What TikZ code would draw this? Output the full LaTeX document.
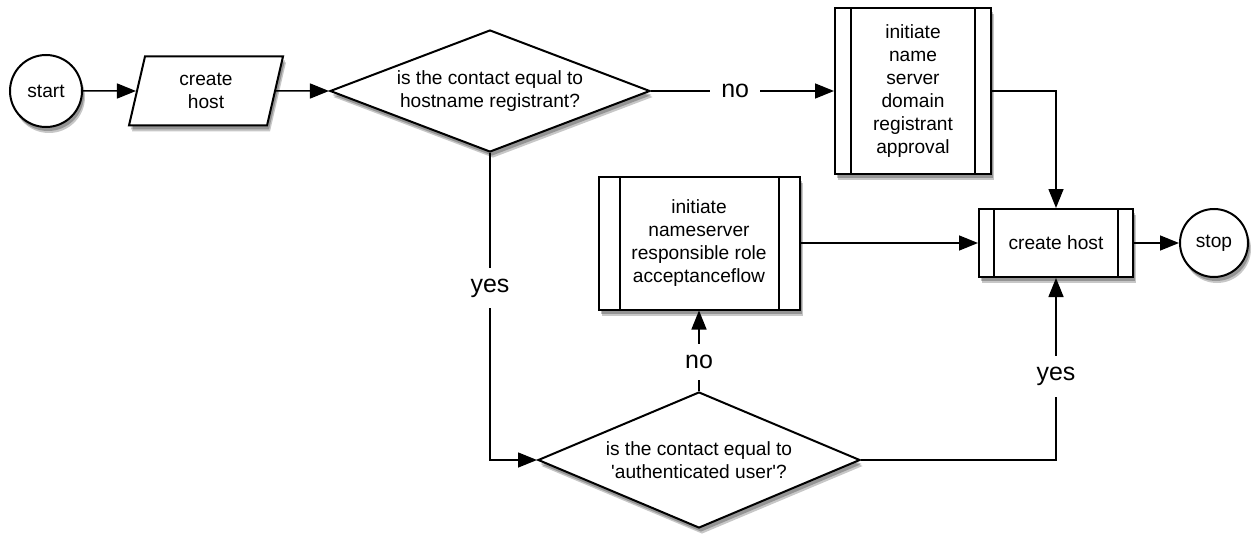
\documentclass[tikz,border=0pt]{standalone}
\usepackage{fontspec}
\setmainfont{Liberation Sans}
\usetikzlibrary{shapes.geometric,shadows,arrows.meta}
\tikzset{
  shade/.style={drop shadow={shadow xshift=0.06cm,shadow yshift=-0.12cm,opacity=0.22,fill=black},
    drop shadow={shadow xshift=0.04cm,shadow yshift=-0.08cm,opacity=0.25,fill=black}},
  terminal/.style={circle,draw,fill=white,line width=0.04cm,inner sep=0pt,shade},
  inout/.style={trapezium,trapezium left angle=65.8,trapezium right angle=114.2,trapezium stretches body,
    draw,fill=white,line width=0.04cm,inner sep=0pt,align=center,shade},
  decision/.style={diamond,draw,fill=white,line width=0.04cm,inner sep=0pt,align=center,shade},
  subproc/.style={rectangle,draw,fill=white,line width=0.04cm,inner sep=0pt,align=center,shade,
    path picture={
      \draw[line width=0.04cm] ([xshift=#1]path picture bounding box.north west) -- ([xshift=#1]path picture bounding box.south west);
      \draw[line width=0.04cm] ([xshift=-#1]path picture bounding box.north east) -- ([xshift=-#1]path picture bounding box.south east);
    }},
  flow/.style={line width=0.03cm,-{Triangle[length=0.38cm,width=0.30cm]}},
  branch/.style={fill=white,inner sep=0.22cm,font=\fontsize{14.2}{16}\selectfont}
}
\begin{document}
\begin{tikzpicture}
                \useasboundingbox (0,0) rectangle (25.080000,10.700000);
                {\fontsize{10.9}{13.1}\selectfont

                % Marking node start
                \node (start) [terminal,minimum size=1.440000cm] at (0.920000,8.880000) {start};%

                % Marking node create host (input)
                \node (hostin) [inout,minimum width=3.080000cm,minimum height=1.380000cm] at (4.120000,8.880000) {create\\host};%

                % Marking node contact = hostname registrant
                \node (askreg) [decision,minimum width=6.400000cm,minimum height=2.440000cm,aspect=2.6] at (9.800000,8.880000) {is the contact equal to\\hostname registrant?};%

                % Marking node registrant approval
                \node (regflow) [subproc=0.320000cm,minimum width=3.120000cm,minimum height=3.320000cm] at (18.260000,8.880000) {initiate\\name\\server\\domain\\registrant\\approval};%

                % Marking node responsible role acceptance
                \node (roleflow) [subproc=0.420000cm,minimum width=4.020000cm,minimum height=2.660000cm] at (13.980000,5.840000) {initiate\\nameserver\\responsible role\\acceptanceflow};%

                % Marking node create host
                \node (hostout) [subproc=0.300000cm,minimum width=3.080000cm,minimum height=1.360000cm] at (21.120000,5.840000) {create host};%

                % Marking node stop
                \node (stop) [terminal,minimum size=1.360000cm] at (24.280000,5.840000) {stop};%

                % Marking node contact = authenticated user
                \node (askuser) [decision,minimum width=6.440000cm,minimum height=2.720000cm,aspect=2.37] at (13.980000,1.500000) {is the contact equal to\\\textquotesingle authenticated user\textquotesingle ?};%

                % Drawing segment start hostin
                \draw [flow] (start) -- (hostin);%

                % Drawing segment hostin askreg
                \draw [flow] (hostin) -- (askreg);%

                % Drawing segment askreg regflow
                \draw [flow] (askreg.east) -- node [branch,pos=0.46] {no} (regflow.west);%

                % Drawing segment askreg askuser
                \draw [flow] (askreg.south) |- node [branch,pos=0.22] {yes} (askuser.west);%

                % Drawing segment askuser roleflow
                \draw [flow] (askuser.north) -- node [branch,pos=0.36] {no} (roleflow.south);%

                % Drawing segment askuser hostout
                \draw [flow] (askuser.east) -| node [branch,pos=0.73] {yes} (hostout.south);%

                % Drawing segment regflow hostout
                \draw [flow] (regflow.east) -| (hostout.north);%

                % Drawing segment roleflow hostout
                \draw [flow] (roleflow.east) -- (hostout.west);%

                % Drawing segment hostout stop
                \draw [flow] (hostout.east) -- (stop.west);%
                }
            \end{tikzpicture}
\end{document}
